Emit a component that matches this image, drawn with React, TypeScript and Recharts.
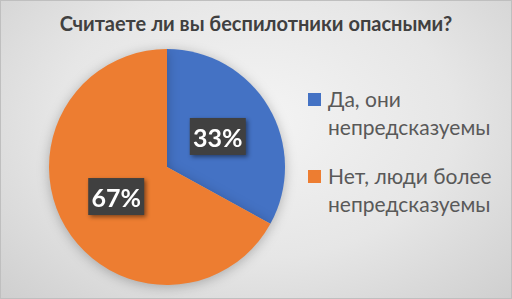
import { PieChart, Pie, Cell, Legend } from "recharts"

// Ответы на опрос (в процентах)
const categories = ["Да, они непредсказуемы", "Нет, люди более непредсказуемы"]
const legendLines = [
  ["Да, они", "непредсказуемы"],
  ["Нет, люди более", "непредсказуемы"],
]
const values = [33, 67]
const COLORS = ["#4472C4", "#ED7D31"]

const FONT = "Lato, 'Open Sans', sans-serif"
const RADIAN = Math.PI / 180

const data = categories.map((name, i) => ({ name, value: values[i] }))

function PctLabel(props: any) {
  const { cx, cy, midAngle, outerRadius, percent } = props
  const r = outerRadius * 0.5
  const x = cx + r * Math.cos(-midAngle * RADIAN)
  const y = cy + r * Math.sin(-midAngle * RADIAN)
  return (
    <g style={{ filter: "drop-shadow(2px 2px 2px rgba(0,0,0,0.45))" }}>
      <rect x={x - 28} y={y - 19} width={56} height={37} fill="#404040" />
      <text
        x={x}
        y={y}
        textAnchor="middle"
        dominantBaseline="central"
        fill="#ffffff"
        fontFamily={FONT}
        fontWeight={700}
        fontSize={25}
      >
        {`${Math.round(percent * 100)}%`}
      </text>
    </g>
  )
}

function LegendBox() {
  return (
    <div style={{ fontFamily: FONT, fontSize: 21, color: "#595959", lineHeight: "28px" }}>
      {legendLines.map((lines, i) => (
        <div key={i} style={{ position: "relative", paddingLeft: 20, marginBottom: i === 0 ? 21 : 0 }}>
          <span
            style={{
              position: "absolute",
              left: 0,
              top: 8,
              width: 13,
              height: 13,
              backgroundColor: COLORS[i],
            }}
          />
          {lines.map((l) => (
            <div key={l}>{l}</div>
          ))}
        </div>
      ))}
    </div>
  )
}

export default function App() {
  return (
    <div
      style={{
        position: "absolute",
        left: 0,
        top: 0,
        width: 512,
        height: 299,
        boxSizing: "border-box",
        border: "1px solid #bfbfbf",
        background: "radial-gradient(ellipse at 50% 40%, #f4f4f4 0%, #e6e6e6 55%, #cfcfcf 100%)",
        overflow: "hidden",
      }}
    >
      <div
        style={{
          position: "absolute",
          left: 0,
          width: 510,
          top: 10,
          textAlign: "center",
          fontFamily: FONT,
          fontWeight: 700,
          fontSize: 20,
          color: "#404040",
        }}
      >
        Считаете ли вы беспилотники опасными?
      </div>
      <PieChart
        width={510}
        height={297}
        margin={{ top: 0, right: 0, bottom: 0, left: 0 }}
        style={{ position: "absolute", left: 0, top: 0 }}
      >
        <Pie
          data={data}
          dataKey="value"
          nameKey="name"
          cx={166}
          cy={166}
          outerRadius={118}
          startAngle={90}
          endAngle={-270}
          stroke="none"
          labelLine={false}
          label={PctLabel}
          isAnimationActive={false}
        >
          {data.map((d, i) => (
            <Cell
              key={d.name}
              fill={COLORS[i]}
              style={{ filter: "drop-shadow(0px 2px 6px rgba(0,0,0,0.25))" }}
            />
          ))}
        </Pie>
        <Legend
          layout="vertical"
          content={<LegendBox />}
          wrapperStyle={{ left: 307, top: 84, width: 204 }}
        />
      </PieChart>
    </div>
  )
}
